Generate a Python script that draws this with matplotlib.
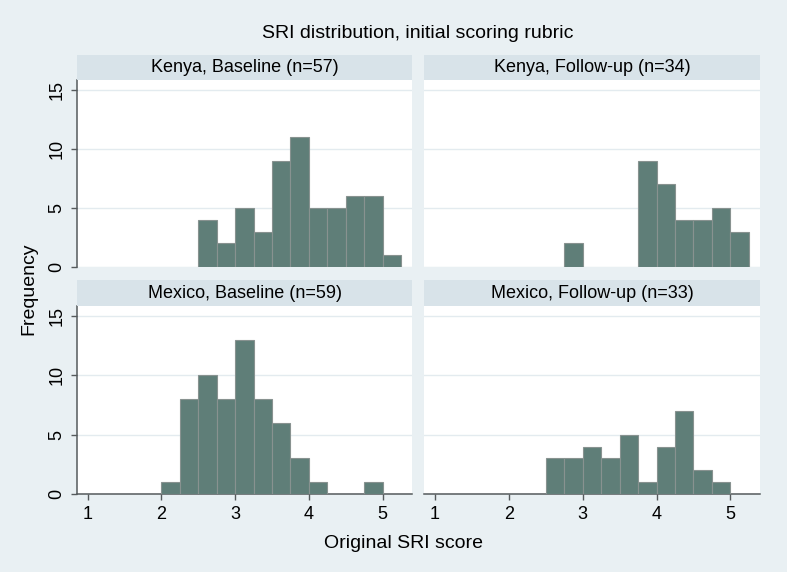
import numpy as np
import matplotlib
matplotlib.use("Agg")
import matplotlib.pyplot as plt

# histogram counts, bins of width 0.25
kenya_base = [4, 2, 5, 3, 9, 11, 5, 5, 6, 6, 1]
kenya_base_start = 2.5
kenya_fu = [2, 0, 0, 0, 9, 7, 4, 4, 5, 3]
kenya_fu_start = 2.75
mexico_base = [1, 8, 10, 8, 13, 8, 6, 3, 1, 0, 0, 1]
mexico_base_start = 2.0
mexico_fu = [3, 3, 4, 3, 5, 1, 4, 7, 2, 1]
mexico_fu_start = 2.5
bin_width = 0.25

panel_titles = ["Kenya, Baseline (n=57)", "Kenya, Follow-up (n=34)",
                "Mexico, Baseline (n=59)", "Mexico, Follow-up (n=33)"]
x_ticks = [1, 2, 3, 4, 5]
y_ticks = [0, 5, 10, 15]

W, H = 787, 572
BG = "#e9f0f3"
STRIP = "#d8e3e9"
BAR = "#5f7e78"
BAR_EDGE = "#889290"
AXIS = "#555a5c"
GRID = "#e3ebef"

plt.rcParams['font.family'] = ['Liberation Sans', 'DejaVu Sans']


def rect(x0, y0, x1, y1):
    # pixel box (from top-left) -> figure fraction
    return [x0 / W, 1 - y1 / H, (x1 - x0) / W, (y1 - y0) / H]


fig = plt.figure(figsize=(W / 100, H / 100), dpi=100, facecolor=BG)

cols = [(77, 412), (424, 760)]
plot_rows = [(80, 267), (306, 494)]
strip_rows = [(55, 80), (280, 306)]

data = [(kenya_base, kenya_base_start), (kenya_fu, kenya_fu_start),
        (mexico_base, mexico_base_start), (mexico_fu, mexico_fu_start)]

for i, (counts, start) in enumerate(data):
    r, c = divmod(i, 2)
    x0, x1 = cols[c]
    y0, y1 = plot_rows[r]
    ax = fig.add_axes(rect(x0, y0, x1, y1))
    ax.set_facecolor("white")

    counts = np.array(counts)
    lefts = start + bin_width * np.arange(len(counts))
    keep = counts > 0
    ax.bar(lefts[keep], counts[keep], width=bin_width, align="edge",
           color=BAR, edgecolor=BAR_EDGE, linewidth=0.8, zorder=3)

    ax.set_xlim(0.855, 5.4)
    ax.set_ylim(0, 15.85)
    ax.set_yticks(y_ticks)
    ax.set_xticks(x_ticks)
    ax.grid(axis="y", color=GRID, linewidth=1.0)
    ax.set_axisbelow(True)

    for s in ["top", "right"]:
        ax.spines[s].set_visible(False)
    ax.spines["left"].set_visible(c == 0)
    ax.spines["bottom"].set_visible(r == 1)
    ax.spines["left"].set_color(AXIS)
    ax.spines["bottom"].set_color(AXIS)
    ax.spines["left"].set_linewidth(1.1)
    ax.spines["bottom"].set_linewidth(1.1)

    ax.tick_params(axis="both", direction="out", length=4.3, width=1.0,
                   color=AXIS, labelsize=13, pad=4)
    if c == 0:
        ax.tick_params(axis="y", labelrotation=90)
        for lab in ax.get_yticklabels():
            lab.set_va("center")
    else:
        ax.tick_params(axis="y", left=False, labelleft=False)
    if r == 0:
        ax.tick_params(axis="x", bottom=False, labelbottom=False)

    # strip with panel title
    sy0, sy1 = strip_rows[r]
    sax = fig.add_axes(rect(x0, sy0, x1, sy1))
    sax.set_facecolor(STRIP)
    sax.set_xticks([])
    sax.set_yticks([])
    for s in sax.spines.values():
        s.set_visible(False)
    sax.text(0.5, 0.5, panel_titles[i], ha="center", va="center",
             fontsize=13, transform=sax.transAxes)

fig.text(418 / W, 1 - 33 / H, "SRI distribution, initial scoring rubric",
         ha="center", va="center", fontsize=14)
fig.text(403 / W, 1 - 544 / H, "Original SRI score",
         ha="center", va="center", fontsize=14)
fig.text(29 / W, 1 - 289 / H, "Frequency", rotation=90,
         ha="center", va="center", fontsize=14)

fig.savefig("out.png", dpi=100, facecolor=BG)
